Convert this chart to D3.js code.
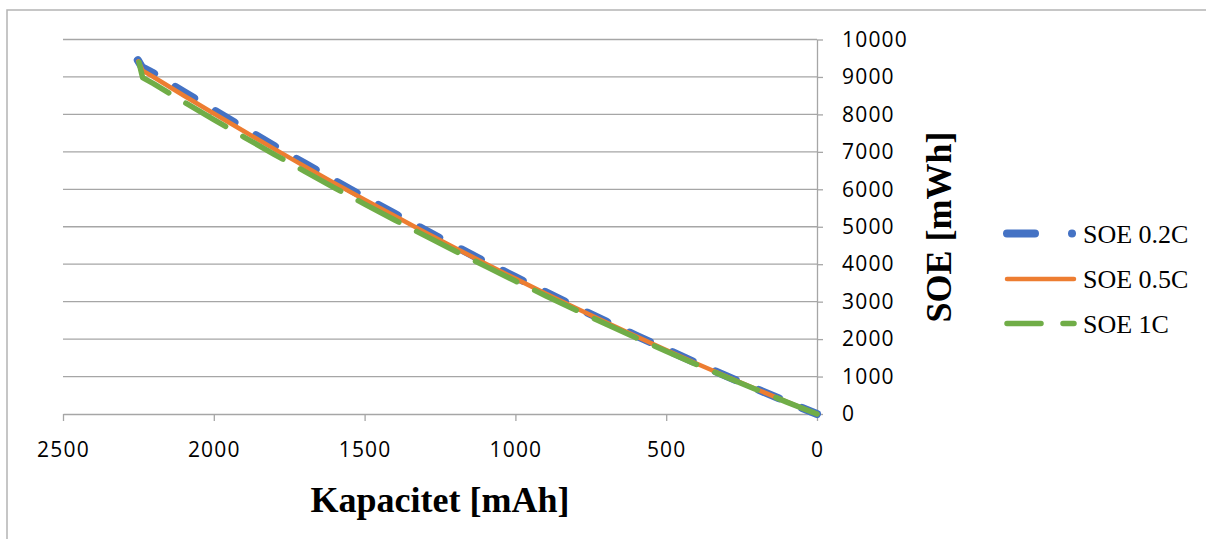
<!DOCTYPE html>
<html>
<head>
<meta charset="utf-8">
<script src="https://cdn.jsdelivr.net/npm/d3@7"></script>
<style>
  html, body { margin: 0; padding: 0; background: #fff; }
  svg { display: block; }
</style>
</head>
<body>
<div id="chart"></div>
<script>
// ── Data ──────────────────────────────────────────────────────────────────────
const seriesNames = ["SOE 0.2C", "SOE 0.5C", "SOE 1C"];

const cap02 = [2252, 2238, 2200, 2100, 2000, 1900, 1800, 1700, 1600, 1500, 1400, 1300, 1200,
               1100, 1000, 900, 800, 700, 600, 500, 400, 300, 200, 100, 0];
const soe02 = [9450, 9260, 9095, 8600, 8115, 7635, 7160, 6695, 6235, 5785, 5345, 4910, 4482,
               4062, 3655, 3255, 2858, 2472, 2095, 1726, 1363, 1010, 667, 329, 0];

const cap05 = [2250, 2236, 2200, 2100, 2000, 1900, 1800, 1700, 1600, 1500, 1400, 1300, 1200,
               1100, 1000, 900, 800, 700, 600, 500, 400, 300, 200, 100, 0];
const soe05 = [9420, 9170, 9000, 8505, 8025, 7550, 7080, 6620, 6165, 5720, 5285, 4855, 4435,
               4020, 3615, 3220, 2830, 2450, 2075, 1710, 1350, 1000, 660, 325, 0];

const cap1  = [2248, 2236, 2200, 2100, 2000, 1900, 1800, 1700, 1600, 1500, 1400, 1300, 1200,
               1100, 1000, 900, 800, 700, 600, 500, 400, 300, 200, 100, 0];
const soe1  = [9390, 8980, 8820, 8335, 7860, 7395, 6935, 6485, 6040, 5605, 5180, 4762, 4352,
               3948, 3550, 3160, 2777, 2402, 2033, 1678, 1324, 981, 648, 318, 0];

const xTicks = [2500, 2000, 1500, 1000, 500, 0];
const yTicks = [0, 1000, 2000, 3000, 4000, 5000, 6000, 7000, 8000, 9000, 10000];

// ── Layout ────────────────────────────────────────────────────────────────────
const W = 1206, H = 539;
const plot = { left: 63, right: 817, top: 39.5, bottom: 414 };
const GRID = "#a6a6a6";

const styles = [
  { color: "#4472C4", width: 8,   dash: "22,25", legendDash: "28,37,0.01,200" },
  { color: "#ED7D31", width: 4.5, dash: null,    legendDash: null },
  { color: "#70AD47", width: 5.5, dash: "46,20", legendDash: "34,22" },
];

const svg = d3.select("#chart").append("svg")
  .attr("width", W).attr("height", H);

// chart frame (only left and top edges fall inside the picture)
svg.append("rect")
  .attr("x", 7).attr("y", 10).attr("width", 1400).attr("height", 800)
  .attr("fill", "none").attr("stroke", "#b4b4b4").attr("stroke-width", 1.5);

const x = d3.scaleLinear().domain([2500, 0]).range([plot.left, plot.right]);
const y = d3.scaleLinear().domain([0, 10000]).range([plot.bottom, plot.top]);

// ── Gridlines ─────────────────────────────────────────────────────────────────
svg.append("g").selectAll("line").data(yTicks.filter(d => d > 0)).enter().append("line")
  .attr("x1", plot.left).attr("x2", plot.right)
  .attr("y1", d => y(d)).attr("y2", d => y(d))
  .attr("stroke", GRID).attr("stroke-width", 1.3);

// ── Axes ──────────────────────────────────────────────────────────────────────
const xAxis = svg.append("g")
  .attr("transform", `translate(0,${plot.bottom})`)
  .call(d3.axisBottom(x).tickValues(xTicks).tickFormat(d3.format("d"))
    .tickSize(7).tickSizeOuter(0).tickPadding(21));

const yAxis = svg.append("g")
  .attr("transform", `translate(${plot.right},0)`)
  .call(d3.axisRight(y).tickValues(yTicks).tickFormat(d3.format("d"))
    .tickSize(6).tickSizeOuter(0).tickPadding(19));

[xAxis, yAxis].forEach(g => {
  g.select(".domain").attr("stroke", GRID).attr("stroke-width", 1.3);
  g.selectAll(".tick line").attr("stroke", GRID).attr("stroke-width", 1.3);
  g.selectAll(".tick text")
    .attr("fill", "#000")
    .style("font-family", "'Open Sans', sans-serif")
    .style("font-size", "21px")
    .style("letter-spacing", "1.2px");
});

// ── Series ────────────────────────────────────────────────────────────────────
const seriesData = [
  d3.zip(cap02, soe02),
  d3.zip(cap05, soe05),
  d3.zip(cap1, soe1),
];

const line = d3.line().x(d => x(d[0])).y(d => y(d[1]));

seriesData.forEach((data, i) => {
  const st = styles[i];
  svg.append("path")
    .datum(data)
    .attr("d", line)
    .attr("fill", "none")
    .attr("stroke", st.color)
    .attr("stroke-width", st.width)
    .attr("stroke-linecap", "round")
    .attr("stroke-linejoin", "round")
    .attr("stroke-dasharray", st.dash);
});

// ── Titles ────────────────────────────────────────────────────────────────────
svg.append("text")
  .attr("x", 440).attr("y", 512)
  .attr("text-anchor", "middle")
  .style("font-family", "'Liberation Serif', 'Times New Roman', serif")
  .style("font-weight", "bold")
  .style("font-size", "36px")
  .text("Kapacitet [mAh]");

svg.append("text")
  .attr("transform", "translate(951,227) rotate(-90)")
  .attr("text-anchor", "middle")
  .style("font-family", "'Liberation Serif', 'Times New Roman', serif")
  .style("font-weight", "bold")
  .style("font-size", "36px")
  .text("SOE [mWh]");

// ── Legend ────────────────────────────────────────────────────────────────────
const legendY = [233.5, 279, 323.5];
const legend = svg.append("g");

seriesNames.forEach((name, i) => {
  const st = styles[i];
  legend.append("line")
    .attr("x1", 1007).attr("x2", 1074)
    .attr("y1", legendY[i]).attr("y2", legendY[i])
    .attr("stroke", st.color)
    .attr("stroke-width", st.width)
    .attr("stroke-linecap", "round")
    .attr("stroke-dasharray", st.legendDash);
  legend.append("text")
    .attr("x", 1083).attr("y", legendY[i] + 9)
    .style("font-family", "'Liberation Serif', 'Times New Roman', serif")
    .style("font-size", "26px")
    .text(name);
});
</script>
</body>
</html>
